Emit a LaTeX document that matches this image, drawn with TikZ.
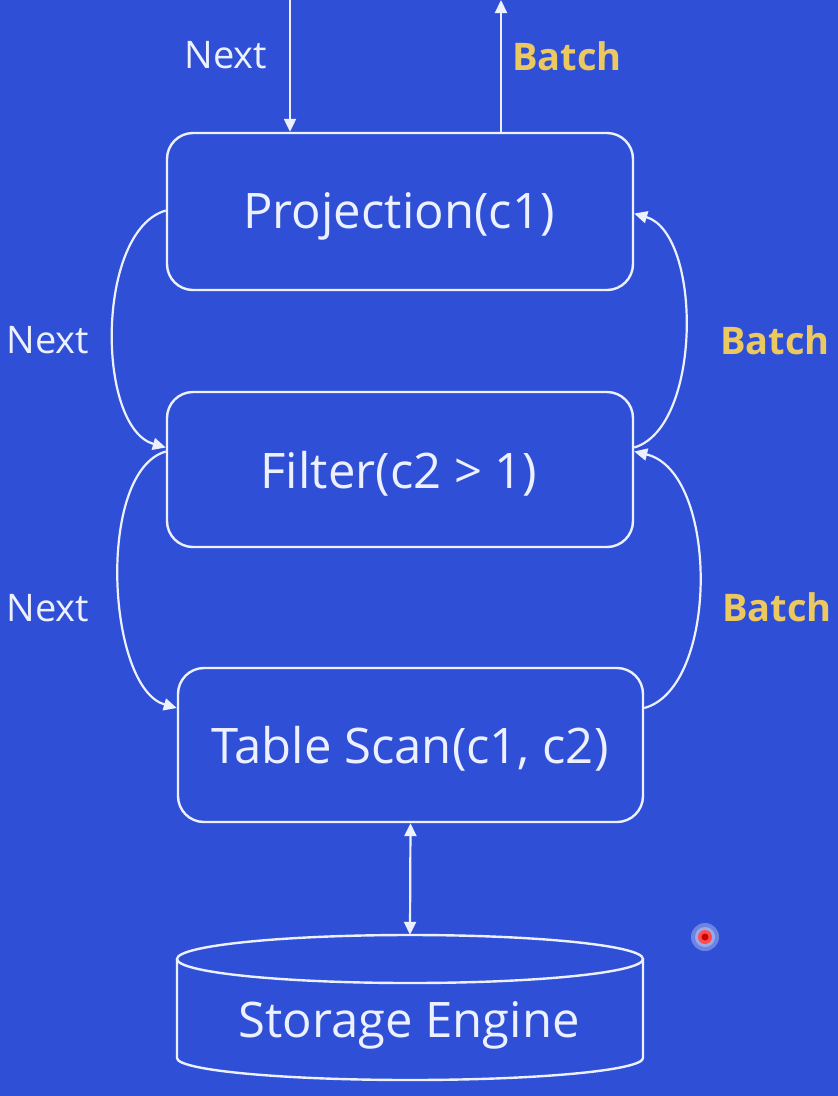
\documentclass[tikz,border=0pt]{standalone}
\usepackage{fontspec}
\setmainfont{Open Sans}
\usetikzlibrary{arrows.meta,calc}
\definecolor{bgblue}{RGB}{47,80,214}
\definecolor{linew}{RGB}{236,240,255}
\definecolor{labyel}{RGB}{236,200,96}
\tikzset{
  opbox/.style={draw=linew, line width=2.4pt, rounded corners=26pt, text=linew,
    font=\fontsize{49}{56}\selectfont, inner sep=0pt},
  optext/.style={text=linew, font=\fontsize{49}{56}\selectfont, inner sep=0pt},
  flow/.style={draw=linew, line width=2.2pt, -{Triangle[width=12pt,length=13pt]}},
  biflow/.style={draw=linew, line width=2.2pt, {Triangle[width=12pt,length=13pt]}-{Triangle[width=12pt,length=13pt]}},
  nextlab/.style={text=linew, font=\fontsize{38}{44}\selectfont},
  batchlab/.style={text=labyel, font=\bfseries\fontsize{38}{44}\selectfont},
}
\begin{document}
\begin{tikzpicture}[x=1pt,y=-1pt]
\useasboundingbox (0,0) rectangle (838,1096);
\fill[bgblue] (0,0) rectangle (838,1096);

% operator boxes
\node[opbox, minimum width=466pt, minimum height=157pt] (proj) at (400,211.5) {};
\node[opbox, minimum width=466pt, minimum height=155pt] (filt) at (400,469.5) {};
\node[opbox, minimum width=465pt, minimum height=154pt] (scan) at (410.5,745) {};
\node[optext] (projtxt) at (399,216) {Projection(c1)};
\node[optext] (filttxt) at (399,474) {Filter(c2 > 1)};
\node[optext] (scantxt) at (410,749) {Table Scan(c1, c2)};

% storage engine cylinder
\node[minimum width=466pt, minimum height=145pt, inner sep=0pt] (store) at (410,1007.5) {};
\draw[linew, line width=2.4pt] (410,959) ellipse [x radius=233, y radius=24];
\draw[linew, line width=2.4pt] (177,959) -- (177,1058) arc[start angle=180, end angle=0, x radius=233, y radius=22] -- (643,959);
\node[optext] (storetxt) at (409,1025) {Storage Engine};

% top connectors
\coordinate (topin) at (290,0);
\coordinate (topout) at (501,0);
\draw[flow] (topin) -- (topin |- proj.north);
\draw[flow] (topout |- proj.north) -- (topout);
\node[nextlab] (n0) at (226,55) {Next};
\node[batchlab] (b0) at (567,56) {Batch};

% Next curves (left)
\draw[flow] ([yshift=1pt]proj.west) .. controls +(-70,20) and +(-70,-20) .. ([yshift=22pt]filt.west);
\draw[flow] ([yshift=18pt]filt.west) .. controls +(-70,20) and +(-70,-20) .. ([yshift=37pt]scan.west);
\node[nextlab] (n1) at (48,340) {Next};
\node[nextlab] (n2) at (48,608) {Next};

% Batch curves (right)
\draw[flow] ([yshift=22pt]filt.east) .. controls +(68,-20) and +(68,20) .. ([yshift=-2pt]proj.east);
\draw[flow] ([yshift=37pt]scan.east) .. controls +(75,-20) and +(85,20) .. ([yshift=18pt]filt.east);
\node[batchlab] (b1) at (775,340) {Batch};
\node[batchlab] (b2) at (777,607) {Batch};

% storage link
\draw[biflow] (scan.south) -- (store.north);

% pointer dot
\fill[white, opacity=0.3] (705,937) circle (14);
\fill[white, opacity=0.3] (705,937) circle (10);
\fill[red!70!white] (705,937) circle (7);
\fill[red!80!black] (705,937) circle (3.5);
\end{tikzpicture}
\end{document}
